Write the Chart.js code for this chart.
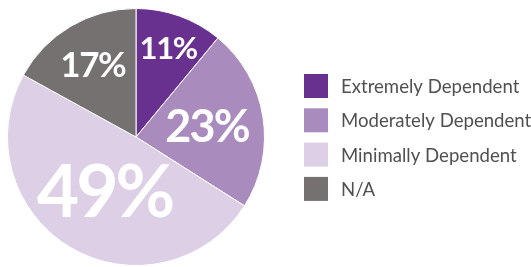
<!DOCTYPE html>
<html>
<head>
<meta charset="utf-8">
<script src="https://cdn.jsdelivr.net/npm/chart.js@4/dist/chart.umd.min.js"></script>
<style>
html,body{margin:0;padding:0;background:#fff;}
#wrap{width:531px;height:267px;position:relative;}
</style>
</head>
<body>
<div id="wrap"><canvas id="c"></canvas></div>
<script>
const categories = ["Extremely Dependent", "Moderately Dependent", "Minimally Dependent", "N/A"];
const shares = [11, 23, 49, 17];
const valueLabels = ["11%", "23%", "49%", "17%"];

const sliceColors = ["#68308f", "#a98bbe", "#dccfe6", "#757170"];
// label styling: radial fraction and font size per slice
const labelStyle = [
  {r: 0.74, size: 31},
  {r: 0.56, size: 45},
  {r: 0.48, size: 73},
  {r: 0.66, size: 35}
];

const sliceLabels = {
  id: 'sliceLabels',
  afterDatasetsDraw(chart) {
    const ctx = chart.ctx;
    const meta = chart.getDatasetMeta(0);
    ctx.save();
    ctx.fillStyle = '#ffffff';
    ctx.textAlign = 'center';
    ctx.textBaseline = 'middle';
    meta.data.forEach((arc, i) => {
      const p = arc.getProps(['x','y','startAngle','endAngle','outerRadius'], true);
      const mid = (p.startAngle + p.endAngle) / 2;
      const st = labelStyle[i];
      const rr = p.outerRadius * st.r;
      const x = p.x + Math.cos(mid) * rr;
      const y = p.y + Math.sin(mid) * rr;
      ctx.font = '700 ' + st.size + 'px Lato, "Open Sans", sans-serif';
      try { ctx.letterSpacing = (-st.size * 0.04) + 'px'; } catch(e) {}
      ctx.fillText(valueLabels[i], x, y + st.size * 0.04);
    });
    ctx.restore();
  }
};

const sideLegend = {
  id: 'sideLegend',
  afterDraw(chart) {
    const ctx = chart.ctx;
    const ds = chart.data.datasets[0];
    ctx.save();
    const x0 = 304, y0 = 74, box = 24, step = 34.3;
    ctx.font = '400 18.6px Lato, "Open Sans", sans-serif';
    ctx.textBaseline = 'middle';
    ctx.textAlign = 'left';
    chart.data.labels.forEach((lab, i) => {
      const y = y0 + i * step;
      ctx.fillStyle = ds.backgroundColor[i];
      ctx.fillRect(x0, y, box, box);
      ctx.fillStyle = '#505050';
      ctx.fillText(lab, x0 + 37, y + box / 2 + 1);
    });
    ctx.restore();
  }
};

new Chart(document.getElementById('c'), {
  type: 'pie',
  data: {
    labels: categories,
    datasets: [{
      data: shares,
      backgroundColor: sliceColors,
      borderColor: '#ffffff',
      borderWidth: 1
    }]
  },
  options: {
    responsive: true,
    maintainAspectRatio: false,
    animation: false,
    layout: { padding: { left: 7, top: 8, right: 266, bottom: 1 } },
    plugins: {
      legend: { display: false },
      tooltip: { enabled: false }
    }
  },
  plugins: [sliceLabels, sideLegend]
});
</script>
</body>
</html>
